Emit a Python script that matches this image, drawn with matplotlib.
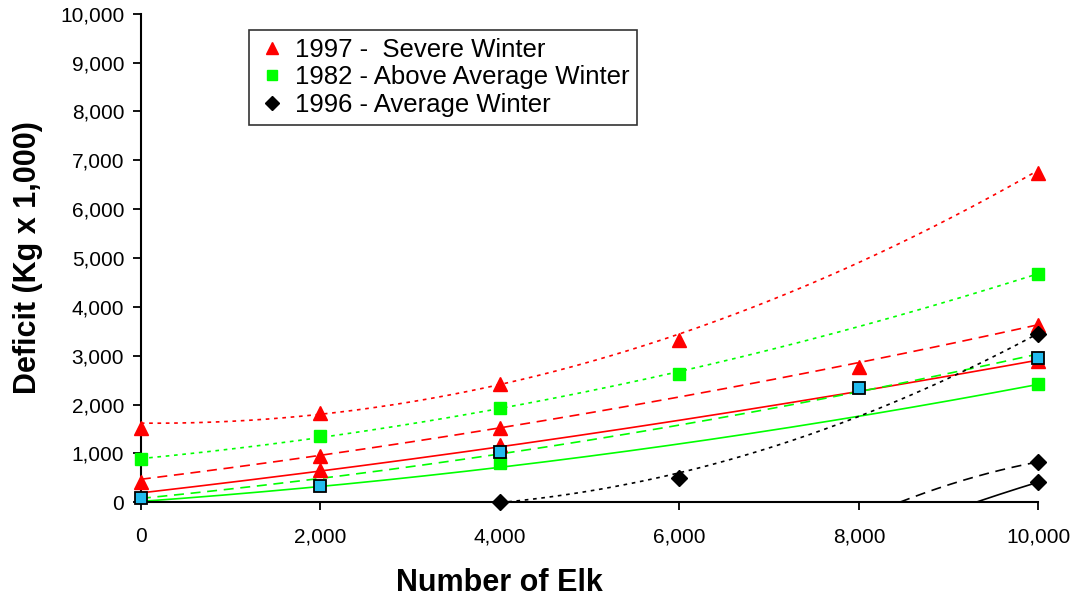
import numpy as np
import matplotlib
matplotlib.use("Agg")
import matplotlib.pyplot as plt
from matplotlib.ticker import FuncFormatter, MultipleLocator

plt.rcParams['font.family'] = ['Liberation Sans', 'DejaVu Sans']

# observed deficits (Kg x 1,000) at each herd size
red_x = [0, 0, 2000, 2000, 2000, 4000, 4000, 4000, 6000, 8000, 10000, 10000, 10000]
red_y = [1520, 420, 1820, 950, 660, 2420, 1520, 1170, 3320, 2770, 6750, 3630, 2900]

green_x = [0, 2000, 4000, 6000, 10000, 4000, 10000]
green_y = [880, 1350, 1930, 2620, 4680, 800, 2420]

cyan_x = [0, 2000, 4000, 8000, 10000]
cyan_y = [80, 330, 1020, 2330, 2960]

black_x = [4000, 6000, 10000, 10000, 10000]
black_y = [0, 500, 3450, 830, 420]

# trend lines read at each herd size
trend_x = [0, 2000, 4000, 6000, 8000, 10000]
red_dotted = [1620, 1800, 2400, 3460, 4900, 6800]
red_dashed = [490, 920, 1520, 2190, 2850, 3630]
red_solid = [190, 640, 1130, 1680, 2270, 2910]
green_dotted = [900, 1330, 1890, 2660, 3660, 4650]
green_dashed = [100, 450, 1000, 1540, 2340, 3000]
green_solid = [20, 310, 720, 1210, 1740, 2420]

black_dotted_x = [4000, 6000, 8000, 10000]
black_dotted = [0, 580, 1780, 3450]
black_dashed_x = [8460, 8910, 9580, 10000]
black_dashed = [0, 310, 650, 830]
black_solid_x = [9330, 9430, 9830, 10000]
black_solid = [0, 100, 300, 420]

DOT = (0, (2.2, 2.8))
DASH = (0, (6, 4))

trends = [
    (trend_x, red_dotted, 'red', DOT),
    (trend_x, red_dashed, 'red', DASH),
    (trend_x, red_solid, 'red', '-'),
    (trend_x, green_dotted, '#00FF00', DOT),
    (trend_x, green_dashed, '#00FF00', DASH),
    (trend_x, green_solid, '#00FF00', '-'),
    (black_dotted_x, black_dotted, 'black', DOT),
    (black_dashed_x, black_dashed, 'black', DASH),
    (black_solid_x, black_solid, 'black', '-'),
]


def trend_curve(xs, ys):
    coef = np.polyfit(xs, ys, 2)
    xx = np.linspace(min(xs), max(xs), 200)
    return xx, np.polyval(coef, xx)


fig = plt.figure(figsize=(10.75, 6), dpi=100)
ax = fig.add_axes([0.131, 0.163, 0.835, 0.814])

for xs, ys, col, ls in trends:
    xx, yy = trend_curve(xs, ys)
    ax.plot(xx, yy, color=col, linestyle=ls, linewidth=1.2, zorder=2)

ax.plot(red_x, red_y, '^', color='red', markersize=10, linestyle='none',
        label='1997 -  Severe Winter', zorder=3, clip_on=False)
ax.plot(green_x, green_y, 's', color='#00FF00', markersize=8.5, linestyle='none',
        label='1982 - Above Average Winter', zorder=3, clip_on=False)
ax.plot(cyan_x, cyan_y, 's', color='#22BBEE', markeredgecolor='black',
        markeredgewidth=1.3, markersize=8.5, linestyle='none', zorder=4,
        clip_on=False)
ax.plot(black_x, black_y, 'D', color='black', markersize=8, linestyle='none',
        label='1996 - Average Winter', zorder=3, clip_on=False)

ax.set_xlim(0, 10000)
ax.set_ylim(0, 10000)
ax.xaxis.set_major_locator(MultipleLocator(2000))
ax.yaxis.set_major_locator(MultipleLocator(1000))
fmt = FuncFormatter(lambda v, p: f"{int(v):,}")
ax.xaxis.set_major_formatter(fmt)
ax.yaxis.set_major_formatter(fmt)

for side in ['top', 'right']:
    ax.spines[side].set_visible(False)
for side in ['left', 'bottom']:
    ax.spines[side].set_linewidth(1.5)
ax.tick_params(axis='both', direction='out', length=6, width=1.3, labelsize=15)
ax.tick_params(axis='x', pad=12)
ax.tick_params(axis='y', pad=6)

ax.set_xlabel('Number of Elk', fontsize=22, fontweight='bold')
ax.xaxis.set_label_coords(0.40, -0.135)
ax.set_ylabel('Deficit (Kg x 1,000)', fontsize=22, fontweight='bold')
ax.yaxis.set_label_coords(-0.109, 0.5)

leg = ax.legend(loc='upper left', bbox_to_anchor=(0.120, 0.967), borderaxespad=0,
                fontsize=18.5, frameon=True, fancybox=False, edgecolor='black',
                handlelength=1.2, handletextpad=0.3, borderpad=0.3,
                labelspacing=0.15, markerscale=0.9)
leg.get_frame().set_linewidth(1.2)

fig.savefig('out.png', dpi=100)
